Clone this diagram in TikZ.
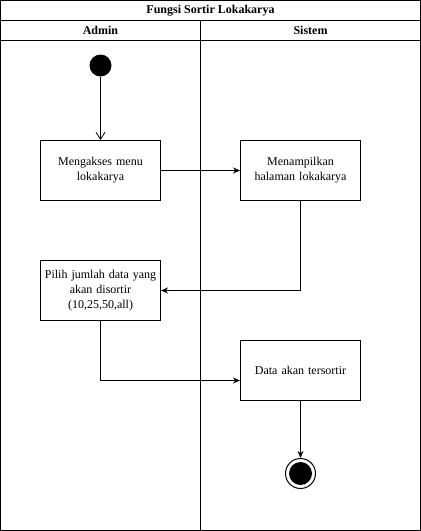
\documentclass[tikz,border=0pt]{standalone}
\usepackage{fontspec}
\setmainfont{Liberation Serif}
\usetikzlibrary{arrows.meta}
\begin{document}
\begin{tikzpicture}[x=1pt,y=-1pt,
  frame/.style={line width=1pt},
  act/.style={draw,line width=1pt,minimum width=120pt,minimum height=60pt,text width=116pt,align=center,inner sep=0pt,font=\fontsize{12}{15}\selectfont},
  flow/.style={line width=1pt,-{Stealth[length=7pt,width=6pt]}},
  startflow/.style={line width=1pt,-{Straight Barb[length=7pt,width=9pt,line width=0.8pt]}},
  hdr/.style={font=\fontsize{12}{14}\selectfont\bfseries}
]
\useasboundingbox (0,0) rectangle (421,531);
\draw[frame] (0.5,0.5) rectangle (420.5,530.5);
\draw[frame] (0.5,20.5) -- (420.5,20.5);
\draw[frame] (0.5,40.5) -- (420.5,40.5);
\draw[frame] (200.5,20.5) -- (200.5,530.5);
\node[hdr] (title) at (210.5,10.5) {Fungsi Sortir Lokakarya};
\node[hdr] (admin) at (100.5,30.5) {Admin};
\node[hdr] (sistem) at (310.5,30.5) {Sistem};

\node[circle,fill=black,minimum size=22pt,inner sep=0pt] (start) at (100.5,65.5) {};
\node[act] (a1) at (100.5,170.5) {Mengakses menu\\lokakarya};
\node[act] (a2) at (300.5,170.5) {Menampilkan\\halaman lokakarya};
\node[act] (a3) at (100.5,290.5) {Pilih jumlah data yang\\akan disortir\\(10,25,50,all)};
\node[act] (a4) at (300.5,370.5) {Data akan tersortir};
\node[circle,draw,line width=1pt,minimum size=30pt,inner sep=0pt] (end) at (300.5,473.5) {};
\node[circle,fill=black,minimum size=23pt,inner sep=0pt] (endin) at (end.center) {};

\draw[startflow] (start) -- (a1);
\draw[flow] (a1) -- (a2);
\draw[flow] (a2.south) |- (a3.east);
\draw[flow] (a3.south) |- ([yshift=-10pt]a4.west);
\draw[flow] (a4) -- (end);
\end{tikzpicture}
\end{document}
